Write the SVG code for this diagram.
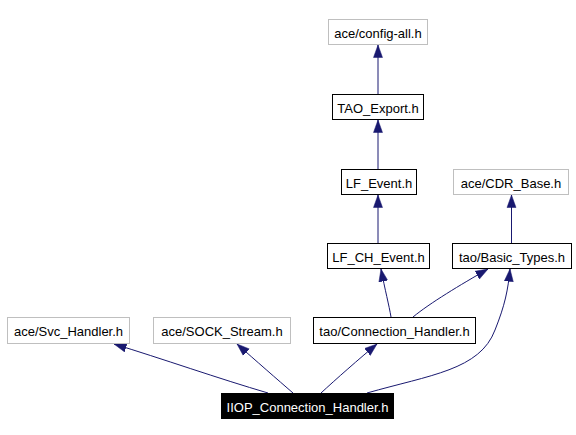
<svg xmlns="http://www.w3.org/2000/svg" width="576" height="435" viewBox="0 0 576 435">
<style>
  .box rect { fill: #ffffff; stroke: #000000; stroke-width: 1; }
  .ext rect { fill: #ffffff; stroke: #bfbfbf; stroke-width: 1; }
  .cur rect { fill: #000000; stroke: #000000; stroke-width: 1; }
  text { font-family: "Liberation Sans", Arial, Helvetica, sans-serif; font-size: 13px; text-anchor: middle; fill: #000000; }
  .cur text { fill: #ffffff; }
  .edges path { fill: none; stroke: #191970; stroke-width: 1; marker-end: url(#arr); }
</style>
<defs>
  <marker id="arr" markerUnits="userSpaceOnUse" markerWidth="13" markerHeight="11" viewBox="0 0 13 11" refX="12.5" refY="5.5" orient="auto">
    <path d="M0,1 L12.5,5.5 L0,10 z" fill="#191970" stroke="#191970" stroke-width="0.5"/>
  </marker>
</defs>
<rect width="576" height="435" fill="#ffffff"/>
<g class="edges" id="edges">
  <path d="M378,94 L378,45"/>
  <path d="M378,169 L378,120"/>
  <path d="M378,243 L378,195"/>
  <path d="M511.5,243 L511.5,195"/>
  <path d="M391,317 C389,305 385,290 381,269"/>
  <path d="M413,317 C430,303 460,285 488,269"/>
  <path d="M268,393 C220,379 160,358 114,344"/>
  <path d="M293,393 C278,380 255,360 237,344"/>
  <path d="M321,393 C335,380 360,358 377,344"/>
  <path d="M367,393 C430,375 480,370 495,330 C505,305 508,290 510,269"/>
</g>
<g id="config-all" class="ext"><rect x="328.5" y="19.5" width="99" height="25"/><text x="378" y="37.5">ace/config-all.h</text></g>
<g id="TAO_Export" class="box"><rect x="332.5" y="94.5" width="91" height="25"/><text x="378" y="112.5">TAO_Export.h</text></g>
<g id="LF_Event" class="box"><rect x="341.5" y="169.5" width="75" height="25"/><text x="379" y="187.5">LF_Event.h</text></g>
<g id="CDR_Base" class="ext"><rect x="453.5" y="169.5" width="115" height="25"/><text x="511" y="187.5">ace/CDR_Base.h</text></g>
<g id="LF_CH_Event" class="box"><rect x="327.5" y="243.5" width="102" height="25"/><text x="378.5" y="261.5">LF_CH_Event.h</text></g>
<g id="Basic_Types" class="box"><rect x="452.5" y="243.5" width="119" height="25"/><text x="512" y="261.5">tao/Basic_Types.h</text></g>
<g id="Svc_Handler" class="ext"><rect x="7.5" y="317.5" width="122" height="26"/><text x="68.5" y="336">ace/Svc_Handler.h</text></g>
<g id="SOCK_Stream" class="ext"><rect x="153.5" y="317.5" width="137" height="26"/><text x="222" y="336">ace/SOCK_Stream.h</text></g>
<g id="Connection_Handler" class="box"><rect x="313.5" y="317.5" width="162" height="26"/><text x="394.5" y="336">tao/Connection_Handler.h</text></g>
<g id="IIOP_Connection_Handler" class="cur"><rect x="221.5" y="393.5" width="172" height="25"/><text x="307.5" y="411.5">IIOP_Connection_Handler.h</text></g>
</svg>
